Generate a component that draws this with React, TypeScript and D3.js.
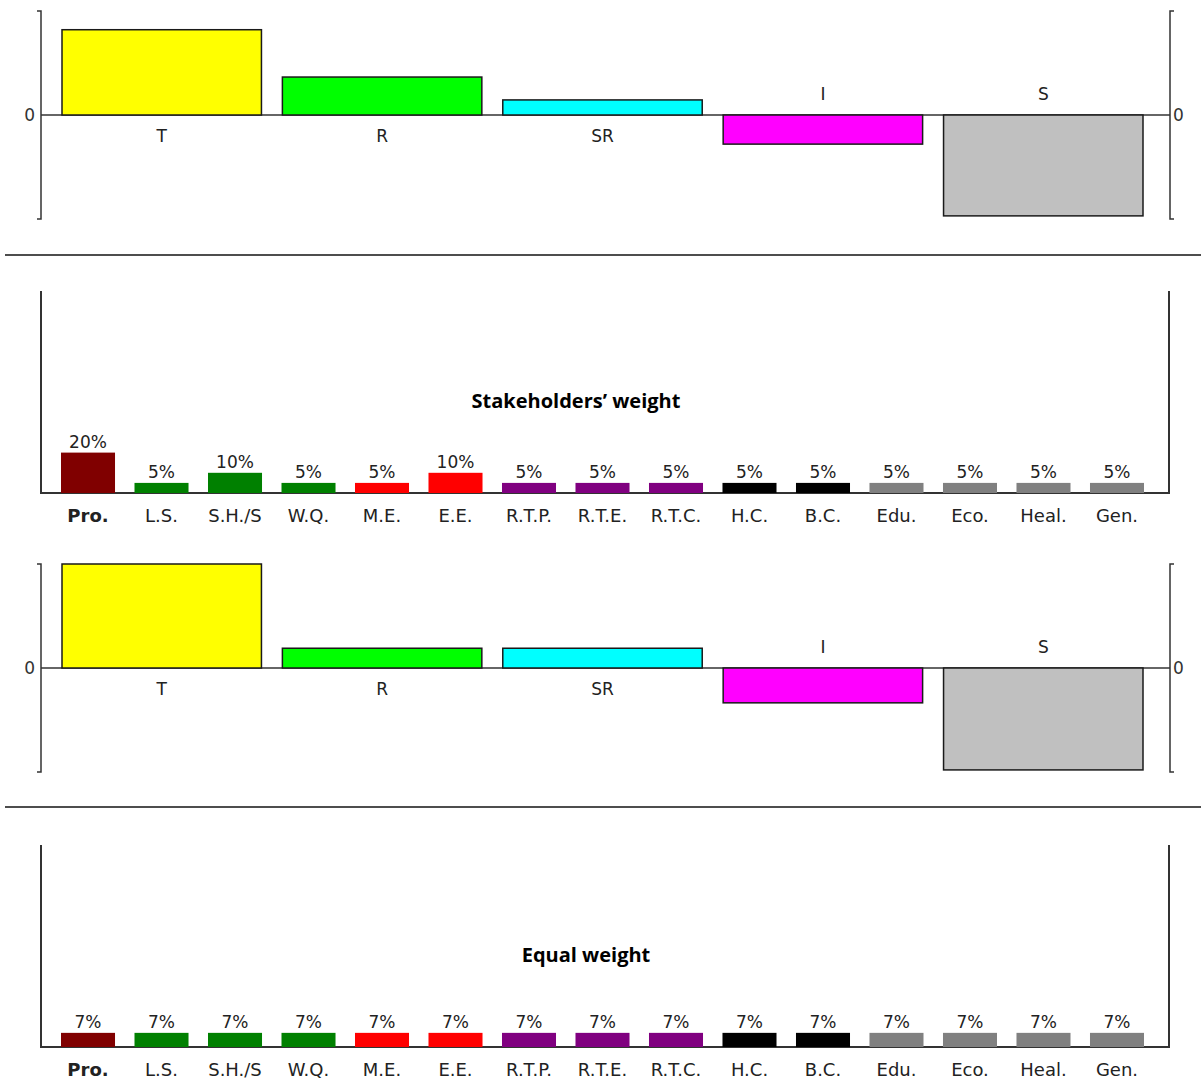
import React from "react";
import * as d3 from "d3";

// ---------- data ----------
const groupCats = ["T", "R", "SR", "I", "S"];
const groupColors = ["#FFFF00", "#00FF00", "#00FFFF", "#FF00FF", "#C0C0C0"];
const groupValuesStake = [0.82, 0.365, 0.145, -0.28, -0.97];
const groupValuesEqual = [1.0, 0.19, 0.19, -0.335, -0.98];

const critCats = ["Pro.", "L.S.", "S.H./S", "W.Q.", "M.E.", "E.E.", "R.T.P.", "R.T.E.", "R.T.C.", "H.C.", "B.C.", "Edu.", "Eco.", "Heal.", "Gen."];
const critColors = ["#800000", "#008000", "#008000", "#008000", "#FF0000", "#FF0000", "#800080", "#800080", "#800080", "#000000", "#000000", "#808080", "#808080", "#808080", "#808080"];
const stakeWeights = [20, 5, 10, 5, 5, 10, 5, 5, 5, 5, 5, 5, 5, 5, 5];
const equalWeights = [7, 7, 7, 7, 7, 7, 7, 7, 7, 7, 7, 7, 7, 7, 7];

const titles = ["Stakeholders\u2019 weight", "Equal weight"];

const W = 1201;
const H = 1080;
const AXIS = "#333333";
const LABEL_FONT = "'DejaVu Sans', Verdana, sans-serif";
const TITLE_FONT = "'Open Sans', 'Liberation Sans', sans-serif";

function GroupPanel({ top, values }: { top: number; values: number[] }) {
  const x = d3.scaleBand<string>().domain(groupCats).range([62, 1143]).paddingInner(0.095).paddingOuter(0);
  const y = d3.scaleLinear().domain([-1, 1]).range([top + 208, top]);
  const y0 = y(0);
  const xl = 41;
  const xr = 1170;
  return (
    <g>
      <path d={`M${xl - 4},${y(1)}H${xl}V${y(-1)}H${xl - 4}`} fill="none" stroke={AXIS} strokeWidth={1.5} />
      <path d={`M${xr + 4},${y(1)}H${xr}V${y(-1)}H${xr + 4}`} fill="none" stroke={AXIS} strokeWidth={1.5} />
      <line x1={xl} x2={xr} y1={y0} y2={y0} stroke={AXIS} strokeWidth={1.5} />
      <text x={35} y={y0} dy="0.36em" textAnchor="end" fontFamily={LABEL_FONT} fontSize={17} fill="#333">0</text>
      <text x={1173} y={y0} dy="0.36em" textAnchor="start" fontFamily={LABEL_FONT} fontSize={17} fill="#333">0</text>
      {groupCats.map((c, i) => {
        const v = values[i];
        const bx = x(c)!;
        const bw = x.bandwidth();
        const yTop = Math.min(y(v), y0);
        const h = Math.abs(y(v) - y0);
        return (
          <g key={c}>
            <rect x={bx} y={yTop} width={bw} height={h} fill={groupColors[i]} stroke="#1a1a1a" strokeWidth={1.5} />
            <text
              x={bx + bw / 2}
              y={v >= 0 ? y0 + 27 : y0 - 15}
              textAnchor="middle"
              fontFamily={LABEL_FONT}
              fontSize={17}
              fill="#222"
            >
              {c}
            </text>
          </g>
        );
      })}
    </g>
  );
}

function WeightPanel({ top, values, title, titleX }: { top: number; values: number[]; title: string; titleX: number }) {
  const x = d3.scaleBand<string>().domain(critCats).range([61, 1144]).paddingInner(0.265).paddingOuter(0);
  const y = d3.scaleLinear().domain([0, 100]).range([top + 202, top]);
  const y0 = y(0);
  const xl = 41;
  const xr = 1169;
  return (
    <g>
      <path d={`M${xl},${y(100)}V${y0}H${xr}V${y(100)}`} fill="none" stroke={AXIS} strokeWidth={2} />
      <text x={titleX} y={top + 117} textAnchor="middle" fontFamily={TITLE_FONT} fontWeight="bold" fontSize={20} fill="#000">
        {title}
      </text>
      {critCats.map((c, i) => {
        const v = values[i];
        const bx = x(c)!;
        const bw = x.bandwidth();
        return (
          <g key={c}>
            <rect x={bx} y={y(v)} width={bw} height={y0 - y(v)} fill={critColors[i]} />
            <text x={bx + bw / 2} y={y(v) - 5} textAnchor="middle" fontFamily={LABEL_FONT} fontSize={17} fill="#222">
              {v}%
            </text>
            <text
              x={bx + bw / 2}
              y={y0 + 29}
              textAnchor="middle"
              fontFamily={LABEL_FONT}
              fontSize={18}
              fontWeight={i === 0 ? "bold" : "normal"}
              fill="#222"
            >
              {c}
            </text>
          </g>
        );
      })}
    </g>
  );
}

export default function App() {
  return (
    <svg width={W} height={H} style={{ position: "absolute", left: 0, top: 0, background: "#fff" }}>
      <rect x={0} y={0} width={W} height={H} fill="#fff" />
      <GroupPanel top={11} values={groupValuesStake} />
      <line x1={5} x2={W} y1={255} y2={255} stroke="#4d4d4d" strokeWidth={2} />
      <WeightPanel top={291} values={stakeWeights} title={titles[0]} titleX={576} />
      <GroupPanel top={564} values={groupValuesEqual} />
      <line x1={5} x2={W} y1={807} y2={807} stroke="#4d4d4d" strokeWidth={2} />
      <WeightPanel top={845} values={equalWeights} title={titles[1]} titleX={586} />
    </svg>
  );
}
